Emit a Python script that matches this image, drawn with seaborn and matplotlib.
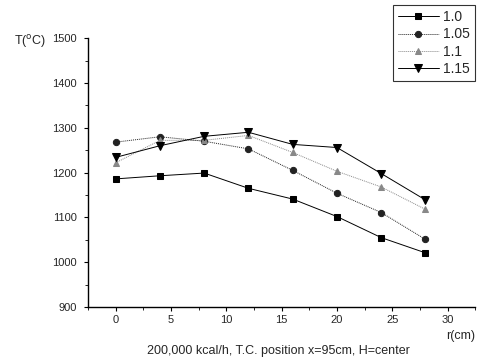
import matplotlib
matplotlib.use("Agg")
import matplotlib.pyplot as plt
from matplotlib.ticker import MultipleLocator
import pandas as pd
import seaborn as sns

r_cm = [0, 4, 8, 12, 16, 20, 24, 28]
t_100 = [1186, 1193, 1199, 1165, 1141, 1102, 1055, 1021]
t_105 = [1268, 1280, 1270, 1253, 1205, 1154, 1111, 1051]
t_110 = [1222, 1272, 1272, 1283, 1245, 1203, 1168, 1118]
t_115 = [1234, 1260, 1281, 1290, 1263, 1256, 1198, 1139]
labels = ["1.0", "1.05", "1.1", "1.15"]

sns.set_theme(style="white")
plt.rcParams["font.family"] = ["Liberation Sans", "DejaVu Sans"]

df = pd.DataFrame({
    "r": r_cm * 4,
    "T": t_100 + t_105 + t_110 + t_115,
    "ratio": [lab for lab in labels for _ in r_cm],
})

styles = {
    "1.0": dict(color="black", marker="s", linestyle="-", lw=0.7, ms=4.5),
    "1.05": dict(color="#222222", marker="o", linestyle=(0, (1, 1)), lw=0.7, ms=4.5),
    "1.1": dict(color="#888888", marker="^", linestyle=(0, (1, 1)), lw=0.7, ms=5),
    "1.15": dict(color="black", marker="v", linestyle="-", lw=0.7, ms=5.5),
}

fig = plt.figure(figsize=(4.81, 3.6), dpi=100)
ax = fig.add_axes([0.183, 0.147, 0.805, 0.747])

for lab in labels:
    s = styles[lab]
    sns.lineplot(data=df[df["ratio"] == lab], x="r", y="T", ax=ax,
                 color=s["color"], marker=s["marker"], linestyle=s["linestyle"],
                 linewidth=s["lw"], markersize=s["ms"], markeredgecolor=s["color"],
                 label=lab)

ax.set_xlim(-2.5, 32.5)
ax.set_ylim(900, 1500)
ax.xaxis.set_major_locator(MultipleLocator(5))
ax.xaxis.set_minor_locator(MultipleLocator(2.5))
ax.yaxis.set_major_locator(MultipleLocator(100))
ax.yaxis.set_minor_locator(MultipleLocator(50))
ax.tick_params(axis="x", which="major", pad=3)
ax.tick_params(axis="y", which="major", pad=5)
ax.tick_params(which="major", direction="out", length=3, width=0.8,
               labelsize=8, color="black", bottom=True, left=True)
ax.tick_params(which="minor", direction="out", length=2, width=0.6,
               color="black", bottom=True, left=True)
for side in ["top", "right"]:
    ax.spines[side].set_visible(False)
for side in ["left", "bottom"]:
    ax.spines[side].set_color("black")
    ax.spines[side].set_linewidth(1.0)

ax.set_xlabel("")
ax.set_ylabel("")
fig.text(0.03, 0.885, "T($^{\\rm o}$C)", fontsize=9, ha="left", va="center")
fig.text(0.988, 0.068, "r(cm)", fontsize=9, ha="right", va="center")
fig.text(0.578, 0.025, "200,000 kcal/h, T.C. position x=95cm, H=center",
         fontsize=9, ha="center", va="center")

leg = ax.legend(loc="upper right", bbox_to_anchor=(1.0, 1.123), frameon=True,
                fancybox=False, edgecolor="black", fontsize=10,
                handlelength=3.0, borderpad=0.35, labelspacing=0.25,
                handletextpad=0.3, borderaxespad=0.0)
leg.get_frame().set_linewidth(0.8)

fig.savefig("out.png", dpi=100)
